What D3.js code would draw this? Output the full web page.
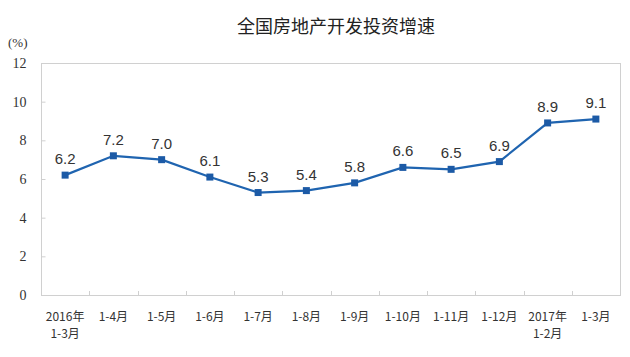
<!DOCTYPE html>
<html><head><meta charset="utf-8">
<script src="https://cdn.jsdelivr.net/npm/d3@7"></script>
<style>body{margin:0;background:#fff}svg{display:block}</style>
</head><body>
<svg id="c" width="630" height="357"></svg>
<script>
const title = "全国房地产开发投资增速";
const unitLabel = "(%)";
const categories = [["2016年","1-3月"],["1-4月"],["1-5月"],["1-6月"],["1-7月"],["1-8月"],["1-9月"],["1-10月"],["1-11月"],["1-12月"],["2017年","1-2月"],["1-3月"]];
const values = [6.2,7.2,7.0,6.1,5.3,5.4,5.8,6.6,6.5,6.9,8.9,9.1];
const yTicks = [0,2,4,6,8,10,12];

const svg = d3.select("#c");
const m = {left:41, right:10, top:63, bottom:62};
const W = 630, H = 357;
const x = d3.scaleBand().domain(d3.range(categories.length)).range([m.left, W - m.right]);
const y = d3.scaleLinear().domain([0,12]).range([H - m.bottom, m.top]);

svg.append("text").attr("x",336).attr("y",33).attr("text-anchor","middle")
  .attr("font-family","'Noto Sans CJK SC'").attr("font-size",18).attr("fill","#222").text(title);
svg.append("text").attr("x",8).attr("y",47)
  .attr("font-family","'Liberation Serif','Noto Sans CJK SC'").attr("font-size",13).attr("fill","#333").text(unitLabel);

// frame
svg.append("rect").attr("x",m.left+0.5).attr("y",m.top+0.5)
  .attr("width",W-m.right-m.left).attr("height",H-m.bottom-m.top)
  .attr("fill","none").attr("stroke","#d0d0d0");

// y axis
const ya = svg.append("g").attr("transform",`translate(${m.left+0.5},0)`)
  .call(d3.axisLeft(y).tickValues(yTicks).tickSize(-4).tickPadding(15));
ya.select(".domain").remove();
ya.selectAll("line").attr("stroke","#d0d0d0");
ya.selectAll("text").attr("font-family","'Liberation Serif'").attr("font-size",14).attr("fill","#333");

// x axis ticks at band boundaries
const bounds = d3.range(1, categories.length);
svg.append("g").selectAll("line").data(bounds).join("line")
  .attr("x1",i=>Math.round(x(i))+0.5).attr("x2",i=>Math.round(x(i))+0.5)
  .attr("y1",y(0)).attr("y2",y(0)-4).attr("stroke","#d0d0d0");

// x labels
const xl = svg.append("g").selectAll("text").data(categories).join("text")
  .attr("x",(d,i)=>x(i)+x.bandwidth()/2).attr("y",321)
  .attr("text-anchor","middle")
  .attr("font-family","'Noto Sans CJK SC'").attr("font-size",12).attr("fill","#333");
xl.each(function(d){
  const t = d3.select(this);
  d.forEach((s,k)=>t.append("tspan").attr("x",t.attr("x")).attr("dy",k?17:0).text(s));
});

// line
const cx = i => x(i)+x.bandwidth()/2;
svg.append("path").datum(values)
  .attr("d", d3.line().x((d,i)=>cx(i)).y(d=>y(d)))
  .attr("fill","none").attr("stroke","#1f64b0").attr("stroke-width",2.2);
svg.append("g").selectAll("rect").data(values).join("rect")
  .attr("x",(d,i)=>cx(i)-3.5).attr("y",d=>y(d)-3.5).attr("width",7).attr("height",7)
  .attr("fill","#1c5aa6");
svg.append("g").selectAll("text").data(values).join("text")
  .attr("x",(d,i)=>cx(i)).attr("y",d=>y(d)-11)
  .attr("text-anchor","middle").attr("font-family","'Liberation Sans'").attr("font-size",15)
  .attr("fill","#333").text(d=>d.toFixed(1));
</script>
</body></html>
